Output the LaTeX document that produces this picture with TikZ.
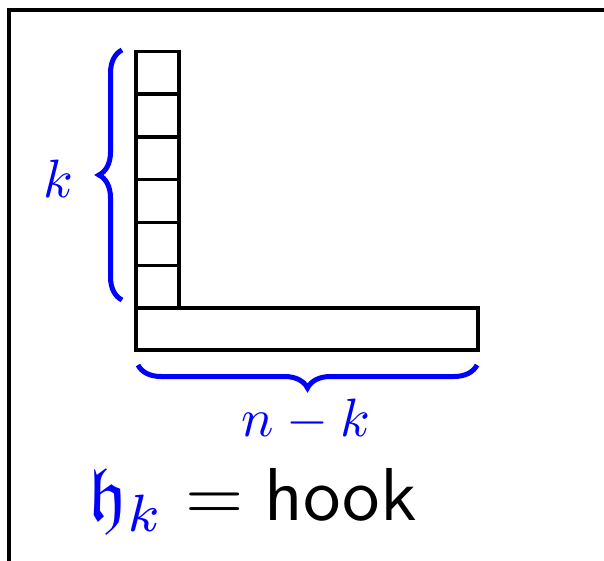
\documentclass[tikz,border=0pt]{standalone}
\usepackage{amssymb}
\usetikzlibrary{decorations.pathreplacing,calc}
\begin{document}
\begin{tikzpicture}[x=1pt,y=-1pt,
  cell/.style={draw=black,line width=3.5pt,minimum width=43pt,minimum height=42.75pt,inner sep=0pt,outer sep=0pt,anchor=north west},
  bar/.style={draw=black,line width=3.5pt,minimum width=342pt,minimum height=42pt,inner sep=0pt,outer sep=0pt,anchor=north west},
  bracedeco/.style={draw=blue,line width=5pt,decorate,decoration={brace,amplitude=23pt}},
  lab/.style={text=blue,scale=5.4,inner sep=0pt,anchor=base}]
\useasboundingbox (0,0) rectangle (604,561);
\clip (0,0) rectangle (604,561);
% frame (cut off at right and bottom)
\draw[line width=3.5pt] (9,700) -- (9,10) -- (700,10);
% column of cells
\foreach \i in {1,...,6}{
  \node[cell] (c\i) at (136,{51.5+(\i-1)*42.75}) {};
}
% bottom bar
\node[bar] (bar) at (136,308) {};
% braces
\coordinate (lb1) at ($(c6.south west)+(-14,-8)$);
\coordinate (lb2) at ($(c1.north west)+(-14,-1.5)$);
\draw[bracedeco] (lb1) -- (lb2);
\coordinate (bb1) at ($(bar.south east)+(-1,15)$);
\coordinate (bb2) at ($(bar.south west)+(2,15)$);
\draw[bracedeco] (bb1) -- (bb2);
% labels
\node[lab] (klab) at (58,197) {$k$};
\node[lab] (nklab) at (306,436) {$n-k$};
\node[scale=7.5,inner sep=0pt,anchor=base west] (hook) at (87,520)
  {$\textcolor{blue}{\mathfrak{h}_k} = \textsf{hook}$};
\end{tikzpicture}
\end{document}
